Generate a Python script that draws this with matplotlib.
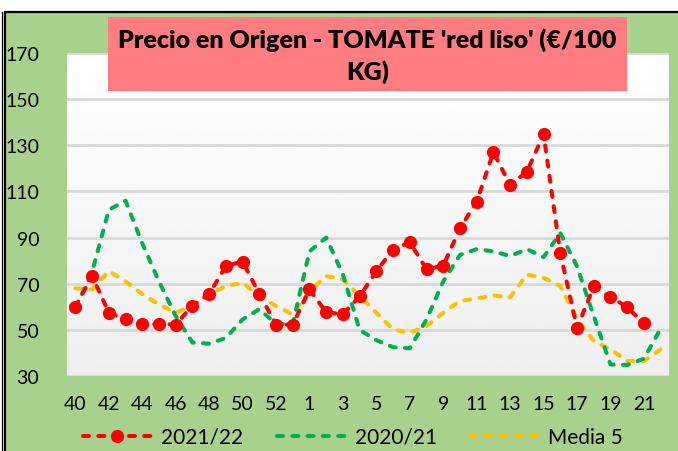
import numpy as np
import matplotlib
matplotlib.use("Agg")
import matplotlib.pyplot as plt
from matplotlib.patches import Rectangle
from matplotlib.lines import Line2D

# semanas: 40..53 y 1..22
semanas = [str(s) for s in range(40, 54)] + [str(s) for s in range(1, 23)]

# 2021/22 (hasta semana 21)
precio_2122 = [60, 73.3, 57.5, 54.5, 52.5, 52.5, 52.3, 60.5, 65.5, 77.7, 79.6, 65.6,
               52.3, 52.3, 67.5, 57.6, 56.8, 64.5, 75.4, 84.8, 88, 76.3, 77.8, 94,
               105.6, 127, 112.8, 118.5, 134.8, 83.2, 50.8, 68.8, 64.3, 59.8, 52.8]
# 2020/21
precio_2021 = [59.5, 75, 102, 106, 87.5, 71, 56, 44.5, 44, 46.5, 54.5, 59,
               52.5, 52.5, 84, 90, 74, 50, 45.5, 42.5, 42, 54.5, 71, 82.5,
               85, 84, 82, 85, 81.5, 92, 77.5, 56, 35, 34.8, 37.5, 50.5]
# media 5 campañas
media5 = [68, 67.5, 75.5, 71, 65.5, 61, 57.5, 60.3, 65.5, 69, 70.4, 64.6,
          60.3, 56.7, 66.8, 73.3, 71.9, 64.6, 57.4, 50.2, 48.8, 51.6, 57.4, 62.5,
          63.6, 64.9, 64.1, 74, 72.6, 69, 54.5, 45.2, 41.6, 36.5, 36.5, 41.6]

titulo = "Precio en Origen - TOMATE 'red liso' (€/100\nKG)"

plt.rcParams['font.family'] = ['Lato', 'DejaVu Sans']

W, H = 678, 452
fig = plt.figure(figsize=(W / 100, H / 100), dpi=100)
fig.patch.set_facecolor('white')

# fondo verde con borde negro
fig.patches.append(Rectangle((5 / W, -0.05), 1, 1.05 - 13 / H, transform=fig.transFigure,
                             facecolor='#A9D18E', edgecolor='black', linewidth=1.6,
                             zorder=-10))
fig.lines.append(Line2D([1.5 / W, 1.5 / W], [0, 1 - 13 / H], transform=fig.transFigure,
                        color='black', linewidth=0.9, zorder=-5))

ax = fig.add_axes([67 / W, 1 - 377 / H, 602 / W, 323 / H])
ax.set_facecolor('white')

# degradado blanco -> gris claro
grad = np.linspace(1.0, 0.935, 256).reshape(-1, 1)
ax.imshow(grad, cmap='gray', vmin=0, vmax=1, aspect='auto',
          extent=[0, 1, 0, 1], transform=ax.transAxes, zorder=0)

x = np.arange(len(semanas))
estilo = (0, (1.5, 2.3))
comun = dict(linewidth=2.9, linestyle=estilo, dash_capstyle='round')
ax.plot(x[:len(media5)], media5, color='#FFC000', label='Media 5', zorder=3, **comun)
ax.plot(x[:len(precio_2021)], precio_2021, color='#00B050', label='2020/21', zorder=4, **comun)
ax.plot(x[:len(precio_2122)], precio_2122, color='#FF0000', marker='o', markersize=8.5,
        label='2021/22', zorder=5, **comun)

ax.set_xlim(-0.5, len(semanas) - 0.5)
ax.set_ylim(30, 170)
ax.set_yticks(range(30, 171, 20))
ax.set_xticks(x[::2])
ax.set_xticklabels(semanas[::2])
ax.tick_params(axis='both', length=0, labelsize=14, colors='black')
ax.tick_params(axis='x', pad=14)
ax.tick_params(axis='y', pad=20)
ax.grid(axis='y', color='#D9D9D9', linewidth=2)
ax.set_axisbelow(True)
for s in ax.spines.values():
    s.set_visible(False)

# recuadro del título
fig.patches.append(Rectangle((108 / W, 1 - 92 / H), 519 / W, 74 / H,
                             transform=fig.transFigure, facecolor='#FF7C80',
                             edgecolor='none', zorder=10))
fig.text(367.5 / W, 1 - 56 / H, titulo, ha='center', va='center', fontsize=18,
         fontweight='heavy', linespacing=1.4, zorder=11)

h, l = ax.get_legend_handles_labels()
orden = [2, 1, 0]
fig.legend([h[i] for i in orden], [l[i] for i in orden], loc='center',
           bbox_to_anchor=(353 / W, 1 - 438 / H), ncol=3, frameon=False,
           fontsize=15, handlelength=3.3, handletextpad=0.45, columnspacing=1.6)

fig.savefig('out.png', dpi=100)
